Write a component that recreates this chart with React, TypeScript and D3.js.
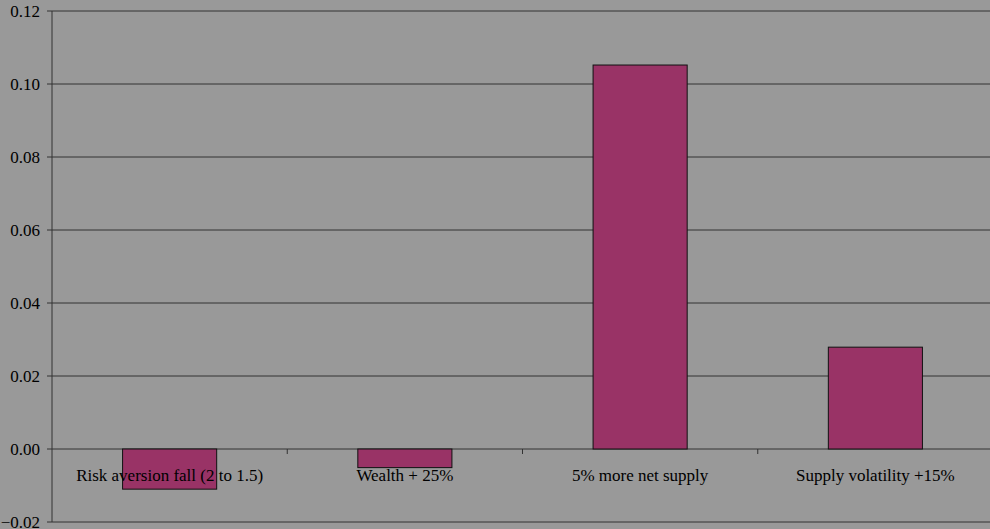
import React from "react";
import * as d3 from "d3";

const categories = [
  "Risk aversion fall (2 to 1.5)",
  "Wealth + 25%",
  "5% more net supply",
  "Supply volatility +15%",
];
const values = [-0.011, -0.0051, 0.1052, 0.0279];
const yTicks = [-0.02, 0, 0.02, 0.04, 0.06, 0.08, 0.1, 0.12];

const W = 990;
const H = 529;
const margin = { left: 52, right: -3, top: 11, bottom: 7 };

export default function App() {
  const x = d3
    .scaleBand<string>()
    .domain(categories)
    .range([margin.left, W - margin.right])
    .paddingInner(0.6)
    .paddingOuter(0.3);
  const xOuter = d3
    .scaleBand<string>()
    .domain(categories)
    .range([margin.left, W - margin.right]);
  const y = d3
    .scaleLinear()
    .domain([-0.02, 0.12])
    .range([H - margin.bottom, margin.top]);
  const font = "'Liberation Serif', 'Times New Roman', serif";
  const y0 = y(0);
  return (
    <svg
      width={W}
      height={H}
      style={{ position: "fixed", left: 0, top: 0, background: "#999999", fontFamily: font }}
    >
      <rect x={0} y={0} width={W} height={H} fill="#999999" />
      {yTicks.map((t) => (
        <g key={t}>
          <line
            x1={margin.left - 5}
            x2={W}
            y1={y(t)}
            y2={y(t)}
            stroke="#333333"
            strokeWidth={1}
          />
          <text
            x={40}
            y={y(t)}
            dy="0.35em"
            textAnchor="end"
            style={{ fontFamily: font, fontSize: 17 }}
            fill="#000"
          >
            {d3.format(".2f")(t)}
          </text>
        </g>
      ))}
      <line
        x1={margin.left}
        x2={margin.left}
        y1={y(0.12)}
        y2={y(-0.02)}
        stroke="#333333"
        strokeWidth={1}
      />
      {categories.slice(1).map((c) => (
        <line
          key={c}
          x1={xOuter(c)!}
          x2={xOuter(c)!}
          y1={y0}
          y2={y0 + 5}
          stroke="#333333"
        />
      ))}
      {categories.map((c, i) => {
        const v = values[i];
        return (
          <rect
            key={c}
            x={x(c)!}
            width={x.bandwidth()}
            y={Math.min(y(v), y0)}
            height={Math.abs(y(v) - y0)}
            fill="#993366"
            stroke="#111111"
            strokeWidth={1}
          />
        );
      })}
      {categories.map((c) => (
        <text
          key={c}
          x={xOuter(c)! + xOuter.bandwidth() / 2}
          y={481}
          textAnchor="middle"
          style={{ fontFamily: font, fontSize: 17 }}
          fill="#000"
        >
          {c}
        </text>
      ))}
    </svg>
  );
}
